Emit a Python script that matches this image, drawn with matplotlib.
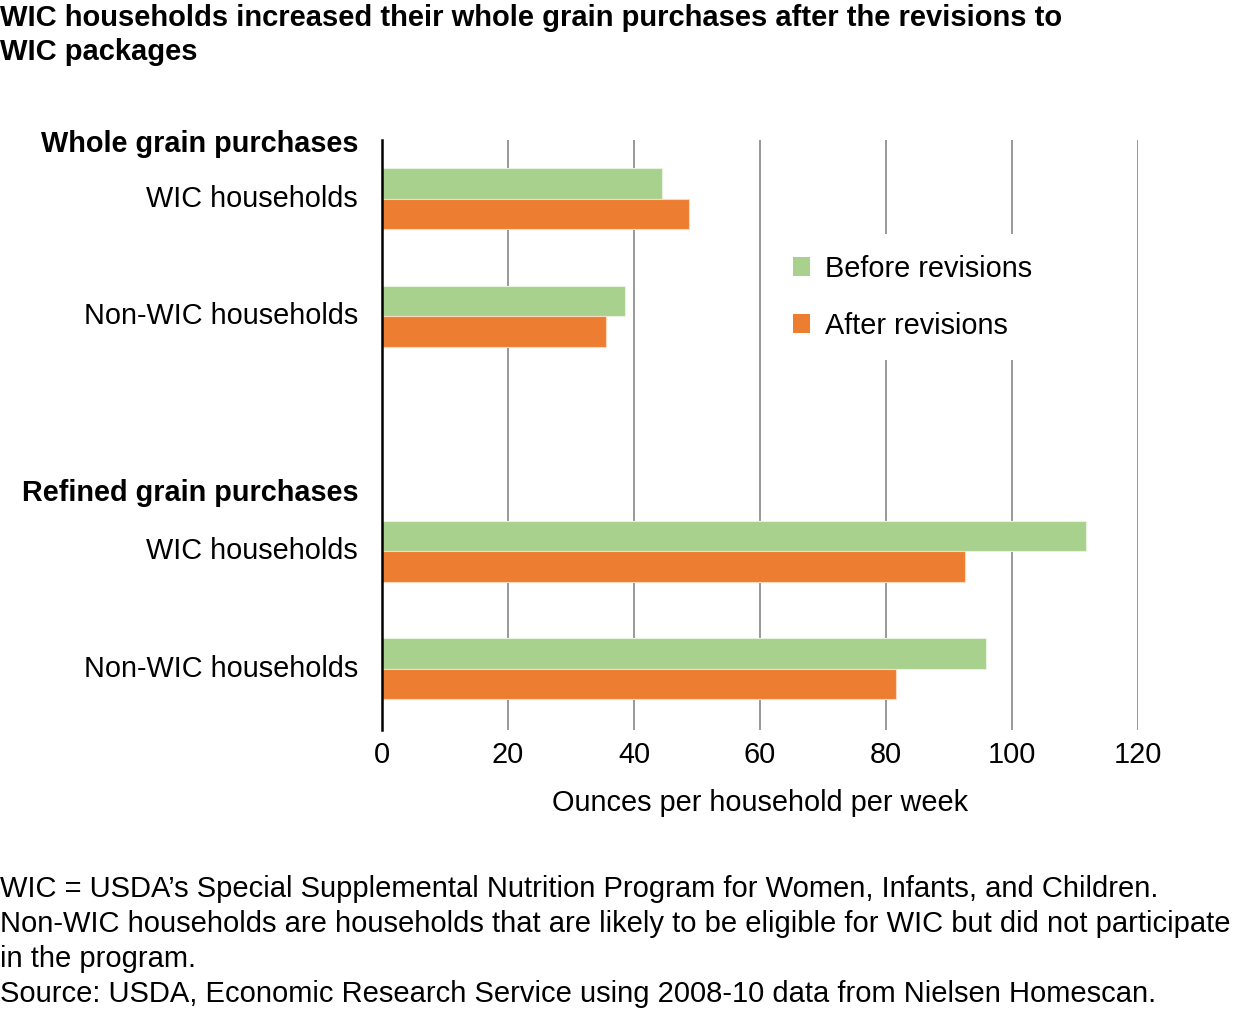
import matplotlib
matplotlib.use("Agg")
import matplotlib.pyplot as plt
from matplotlib.patches import Patch

plt.rcParams['font.family'] = ['Liberation Sans', 'DejaVu Sans']

categories = ["WIC households", "Non-WIC households", "WIC households", "Non-WIC households"]
groups = ["Whole grain purchases", "Refined grain purchases"]
before = [44.4, 38.5, 111.7, 95.8]
after = [48.8, 35.6, 92.5, 81.6]
series = ["Before revisions", "After revisions"]
xticks = [0, 20, 40, 60, 80, 100, 120]

green = "#A9D18E"
orange = "#ED7D31"
FS = 20.8

fig = plt.figure(figsize=(12.39, 10.09), dpi=100)
ax = fig.add_axes([382/1239, 1-730/1009, 756/1239, 590/1009])

ypos = [0, 1, 3, 4]
header_pos = [-0.47, 2.5]
h = 0.26
ax.barh([y - h/2 for y in ypos], before, height=h, color=green, edgecolor="#e8f3df", linewidth=0.8, zorder=3)
ax.barh([y + h/2 for y in ypos], after, height=h, color=orange, edgecolor="#fbd9c0", linewidth=0.8, zorder=3)

ax.set_xlim(0, 120)
ax.set_ylim(4.52, -0.5)
ax.set_xticks(xticks)
ax.set_xticklabels([str(t) for t in xticks], fontsize=FS)
ax.tick_params(axis='x', length=0, pad=8)
ax.set_yticks([])
for s in ["top", "right", "bottom"]:
    ax.spines[s].set_visible(False)
ax.spines["left"].set_linewidth(1.8)
ax.spines["left"].set_color("black")
ax.spines["left"].set_zorder(4)
ax.grid(axis='x', color="#999999", linewidth=1.4, zorder=0)
ax.set_xlabel("Ounces per household per week", fontsize=FS, labelpad=14)

for y, c in zip(ypos, categories):
    ax.text(-3.8, y, c, ha='right', va='center', fontsize=FS)
for y, g in zip(header_pos, groups):
    ax.text(-3.8, y, g, ha='right', va='center', fontsize=FS, fontweight='bold')

handles = [Patch(facecolor=green, edgecolor='none'), Patch(facecolor=orange, edgecolor='none')]
leg = ax.legend(handles, series, loc='upper left', bbox_to_anchor=(0.5165, 0.84), frameon=True,
                fontsize=FS, handlelength=0.6, handleheight=0.6, handletextpad=0.52,
                labelspacing=1.0, borderpad=0.7, borderaxespad=0, fancybox=False)
leg.get_frame().set_facecolor('white')
leg.get_frame().set_edgecolor('none')
leg.get_frame().set_alpha(1)
leg.set_zorder(5)

fig.text(0.0, 1-4/1009, "WIC households increased their whole grain purchases after the revisions to\nWIC packages",
         ha='left', va='top', fontsize=21, fontweight='bold', linespacing=1.26)

foot = ("WIC = USDA\u2019s Special Supplemental Nutrition Program for Women, Infants, and Children.\n"
        "Non-WIC households are households that are likely to be eligible for WIC but did not participate\n"
        "in the program.\n"
        "Source: USDA, Economic Research Service using 2008-10 data from Nielsen Homescan.")
fig.text(0.0, 1-875/1009, foot, ha='left', va='top', fontsize=21, linespacing=1.32)

fig.savefig("out.png", dpi=100)
